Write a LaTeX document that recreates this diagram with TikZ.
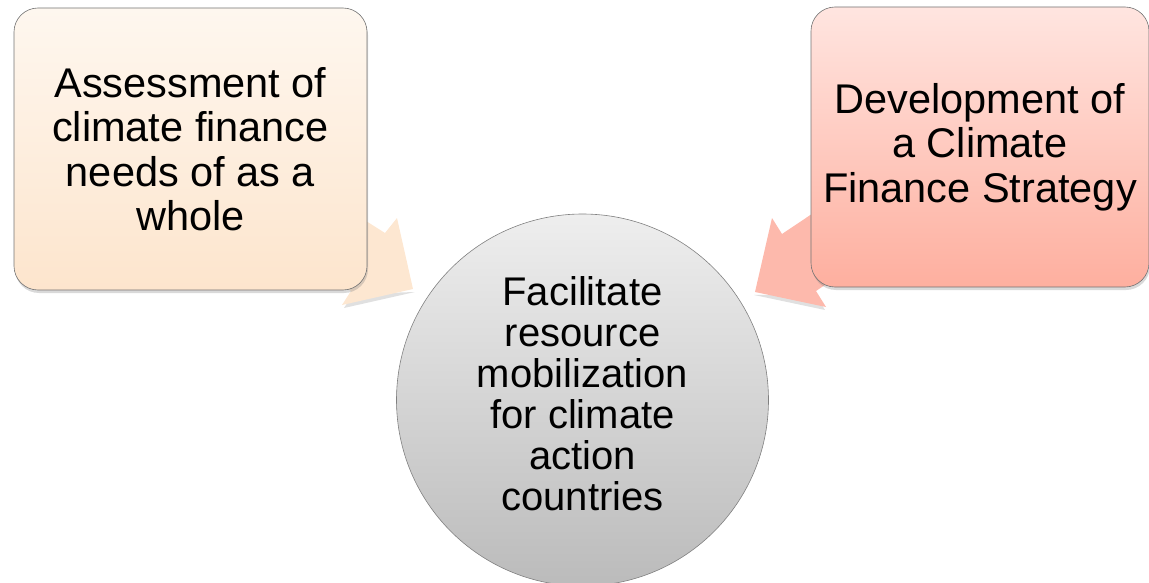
\documentclass[tikz,border=0pt]{standalone}
\usepackage{fontspec}
\setmainfont{Liberation Sans}
\usepackage{xcolor}
\usepackage{tikz}
\usetikzlibrary{shadows}
\usetikzlibrary{positioning}

\definecolor{assesstop}{HTML}{FEF7EF}
\definecolor{assessbot}{HTML}{FDE5CD}
\definecolor{assessarrow}{HTML}{FDE7D1}
\definecolor{strattop}{HTML}{FFE5E0}
\definecolor{stratbot}{HTML}{FEAF9F}
\definecolor{stratarrow}{HTML}{FDB9AC}
\definecolor{goaltop}{HTML}{EEEEEE}
\definecolor{goalbot}{HTML}{BBBBBB}

\begin{document}
\begin{tikzpicture}[x=1pt, y=-1pt,
        stepbox/.style={draw=black!55, line width=0.6pt, rounded corners=24pt,
            align=center, inner sep=0pt,
            drop shadow={shadow xshift=1pt, shadow yshift=-3pt, opacity=0.3}},
        bigtext/.style={font=\fontsize{41.5}{44.5}\selectfont},
        goalcircle/.style={circle, draw=black!50, line width=0.6pt, inner sep=0pt,
            minimum size=372pt, top color=goaltop, bottom color=goalbot}]
        \useasboundingbox (0, 0) rectangle (1149, 583);

        % block arrows, drawn first so the boxes hide their tails
        \coordinate (la-tip) at (413, 289);
        \coordinate (la-c1) at (397, 218);
        \coordinate (la-b1) at (385, 233);
        \coordinate (la-s1) at (298, 178);
        \coordinate (la-s2) at (264, 236);
        \coordinate (la-b2) at (351, 291);
        \coordinate (la-c2) at (342, 305);
        \fill[black, opacity=0.12] ([shift={(2pt,-3pt)}]la-tip) -- ([shift={(2pt,-3pt)}]la-c2) -- ([shift={(2pt,-3pt)}]la-b2) -- cycle;
        \fill[assessarrow] (la-tip) -- (la-c1) -- (la-b1) -- (la-s1)
            -- (la-s2) -- (la-b2) -- (la-c2) -- cycle;

        \coordinate (ra-tip) at (755, 292);
        \coordinate (ra-c1) at (772, 218);
        \coordinate (ra-b1) at (782, 234);
        \coordinate (ra-s1) at (870, 175);
        \coordinate (ra-s2) at (904, 232);
        \coordinate (ra-b2) at (816, 291);
        \coordinate (ra-c2) at (826, 307);
        \fill[black, opacity=0.12] ([shift={(-1pt,-3pt)}]ra-tip) -- ([shift={(-1pt,-3pt)}]ra-c2) -- ([shift={(-1pt,-3pt)}]ra-b2) -- cycle;
        \fill[stratarrow] (ra-tip) -- (ra-c1) -- (ra-b1) -- (ra-s1)
            -- (ra-s2) -- (ra-b2) -- (ra-c2) -- cycle;

        % the three shapes
        \node[stepbox, bigtext, minimum width=353pt, minimum height=282pt,
            top color=assesstop, bottom color=assessbot] (assess) at (190.5, 149)
            {Assessment of\\climate finance\\needs of as a\\whole};
        \node[stepbox, bigtext, minimum width=338pt, minimum height=280pt,
            top color=strattop, bottom color=stratbot] (strategy) at (980, 147)
            {Development of\\a Climate\\Finance Strategy};
        \node[goalcircle] (goal) at (582.5, 400) {};
        \node[align=center, font=\fontsize{40}{41}\selectfont] (goaltext)
            at ([yshift=6pt]goal.center)
            {Facilitate\\resource\\mobilization\\for climate\\action\\countries};
    \end{tikzpicture}
\end{document}
